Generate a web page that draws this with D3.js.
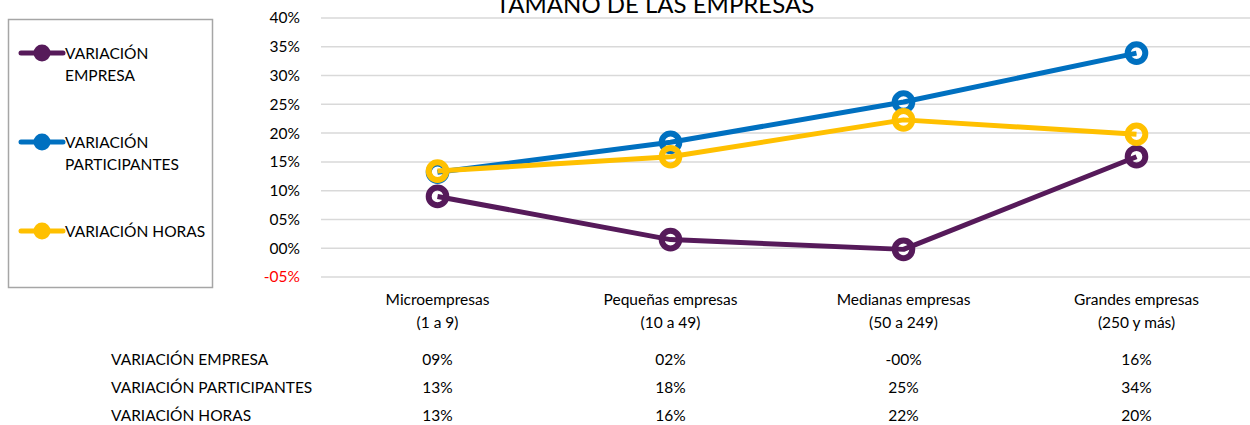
<!DOCTYPE html>
<html>
<head>
<meta charset="utf-8">
<script src="https://cdn.jsdelivr.net/npm/d3@7"></script>
<style>
  body { margin: 0; background: #fff; }
  svg { display: block; font-family: Lato, "Open Sans", sans-serif; }
</style>
</head>
<body>
<svg id="chart" width="1250" height="425"></svg>
<script>
let title = 'TAMAÑO DE LAS EMPRESAS';
let categories = ['Microempresas', 'Pequeñas empresas', 'Medianas empresas', 'Grandes empresas'];
let categoryRanges = ['(1 a 9)', '(10 a 49)', '(50 a 249)', '(250 y más)'];
let seriesNames = ['VARIACIÓN EMPRESA', 'VARIACIÓN PARTICIPANTES', 'VARIACIÓN HORAS'];
let legendLines = [['VARIACIÓN', 'EMPRESA'], ['VARIACIÓN', 'PARTICIPANTES'], ['VARIACIÓN HORAS']];
let empresa = [0.090, 0.015, -0.002, 0.159];
let participantes = [0.132, 0.184, 0.254, 0.339];
let horas = [0.134, 0.159, 0.223, 0.198];
let yTicks = [-0.05, 0, 0.05, 0.10, 0.15, 0.20, 0.25, 0.30, 0.35, 0.40];

let series = [empresa, participantes, horas];
let colors = ['#561a5a', '#0070c0', '#ffc000'];
let fs = 15.5;

function pct(v){
    let n = Math.round(Math.abs(v) * 100);
    return (v < 0 ? '-' : '') + String(n).padStart(2, '0') + '%';
}

let svg = d3.select('#chart');
let xscale = d3.scaleBand().domain(categories).range([321, 1253]);
let yscale = d3.scaleLinear().domain([-0.05, 0.40]).range([277, 18]);
let cx = c => xscale(c) + xscale.bandwidth() / 2;

// gridlines
svg.append('g').selectAll('line').data(yTicks).join('line')
    .attr('x1', 321).attr('x2', 1253)
    .attr('y1', d => yscale(d)).attr('y2', d => yscale(d))
    .attr('stroke', '#d9d9d9').attr('stroke-width', 1.5);

// y axis labels
let yaxis = d3.axisLeft(yscale).tickValues(yTicks).tickFormat(pct).tickSize(0).tickPadding(0);
let yg = svg.append('g').attr('transform', 'translate(300,0)').call(yaxis);
yg.select('.domain').remove();
yg.selectAll('text')
    .attr('font-family', 'Lato, sans-serif').attr('font-size', fs)
    .attr('fill', d => d < 0 ? '#ff0000' : '#000');

// title (top is cut off in the original too)
svg.append('text').attr('x', 655).attr('y', 12.5)
    .attr('text-anchor', 'middle').attr('font-size', 24).attr('fill', '#000')
    .text(title);

// lines and markers
let line = d3.line().x((d, i) => cx(categories[i])).y(d => yscale(d));
series.forEach((vals, index) => {
    svg.append('path')
        .datum(vals)
        .attr('fill', 'none')
        .attr('stroke', colors[index])
        .attr('stroke-width', 5)
        .attr('stroke-linejoin', 'round')
        .attr('d', line);
    svg.append('g').selectAll('circle').data(vals).join('circle')
        .attr('cx', (d, i) => cx(categories[i]))
        .attr('cy', d => yscale(d))
        .attr('r', 8.8)
        .attr('fill', 'none')
        .attr('stroke', colors[index])
        .attr('stroke-width', 6);
});

// category labels
let xl = svg.append('g');
categories.forEach((c, i) => {
    let t = xl.append('text').attr('x', cx(c)).attr('text-anchor', 'middle')
        .attr('font-size', fs).attr('fill', '#000');
    t.append('tspan').attr('x', cx(c)).attr('y', 305).text(c);
    t.append('tspan').attr('x', cx(c)).attr('y', 328).text(categoryRanges[i]);
});

// data table
let rowY = [365, 393, 421];
series.forEach((vals, index) => {
    svg.append('text').attr('x', 111).attr('y', rowY[index])
        .attr('font-size', fs).attr('fill', '#000').text(seriesNames[index]);
    svg.append('g').selectAll('text').data(vals).join('text')
        .attr('x', (d, i) => cx(categories[i]))
        .attr('y', rowY[index])
        .attr('text-anchor', 'middle').attr('font-size', fs).attr('fill', '#000')
        .text(d => pct(d));
});

// legend
svg.append('rect').attr('x', 8.5).attr('y', 19.5).attr('width', 204).attr('height', 268)
    .attr('fill', 'none').attr('stroke', '#a6a6a6').attr('stroke-width', 1.5);
let legendY = [53, 142, 231];
legendLines.forEach((lines, index) => {
    let g = svg.append('g').attr('transform', 'translate(0,' + legendY[index] + ')');
    g.append('line').attr('x1', 21).attr('x2', 63).attr('y1', 0).attr('y2', 0)
        .attr('stroke', colors[index]).attr('stroke-width', 5).attr('stroke-linecap', 'round');
    g.append('circle').attr('cx', 42).attr('cy', 0).attr('r', 8.5).attr('fill', colors[index]);
    let t = g.append('text').attr('font-size', fs).attr('fill', '#000');
    lines.forEach((s, k) => {
        t.append('tspan').attr('x', 65).attr('y', 6 + k * 22).text(s);
    });
});
</script>
</body>
</html>
